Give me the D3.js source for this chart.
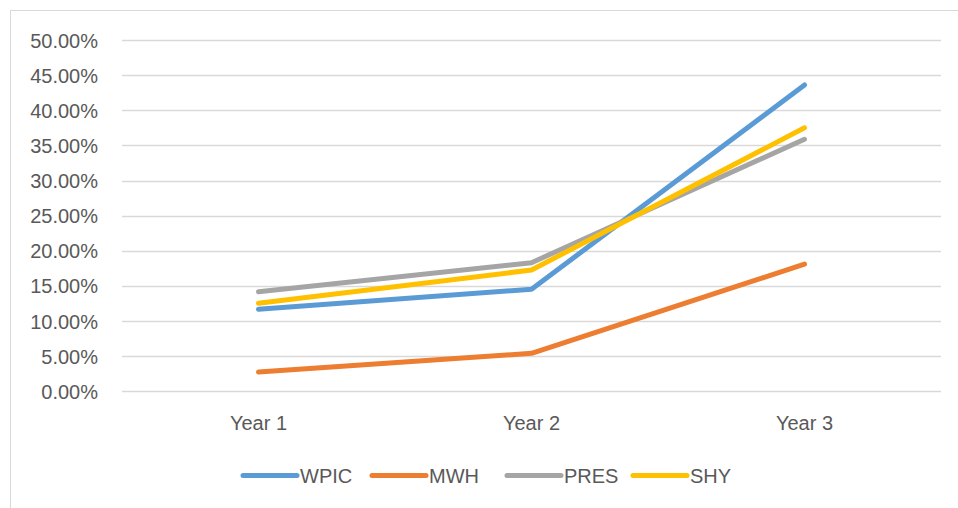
<!DOCTYPE html>
<html><head><meta charset="utf-8">
<script src="https://cdn.jsdelivr.net/npm/d3@7"></script>
<style>body{margin:0;background:#fff;}svg{display:block;}</style>
</head><body>
<script>
const categories = ["Year 1", "Year 2", "Year 3"];
const seriesNames = ["WPIC", "MWH", "PRES", "SHY"];
const WPIC = [0.1168, 0.1452, 0.4360];
const MWH  = [0.0273, 0.0541, 0.1810];
const PRES = [0.1418, 0.1830, 0.3587];
const SHY  = [0.1253, 0.1726, 0.3750];
const yTicks = [0, 0.05, 0.10, 0.15, 0.20, 0.25, 0.30, 0.35, 0.40, 0.45, 0.50];
const colors = ["#5B9BD5", "#ED7D31", "#A5A5A5", "#FFC000"];
const series = [WPIC, MWH, PRES, SHY];

(function () {
const W = 958, H = 508;
const svg = d3.select("body").append("svg").attr("width", W).attr("height", H);
svg.append("rect").attr("x", 10.5).attr("y", 10.5).attr("width", W).attr("height", H)
  .attr("fill", "#fff").attr("stroke", "#D9D9D9").attr("stroke-width", 1);

const pLeft = 122, pRight = 941, pTop = 40, pBottom = 391.3;
const x = d3.scaleBand().domain(categories).range([pLeft, pRight]);
const y = d3.scaleLinear().domain([0, 0.5]).range([pBottom, pTop]);
const font = "'Liberation Sans', Arial, sans-serif";

// gridlines
svg.append("g").selectAll("line").data(yTicks).join("line")
  .attr("x1", pLeft).attr("x2", pRight)
  .attr("y1", d => Math.round(y(d)) + 0.5).attr("y2", d => Math.round(y(d)) + 0.5)
  .attr("stroke", "#D9D9D9").attr("stroke-width", 1.3);

// y axis labels
const yAxis = d3.axisLeft(y).tickValues(yTicks).tickFormat(d3.format(".2%")).tickSize(0).tickPadding(0);
const gy = svg.append("g").attr("transform", `translate(98,0)`).call(yAxis);
gy.select(".domain").remove();
gy.selectAll("text").attr("font-family", font).attr("font-size", 20).attr("fill", "#595959").attr("dy", "0.35em");

// x axis labels
const xAxis = d3.axisBottom(x).tickSize(0).tickPadding(0);
const gx = svg.append("g").attr("transform", `translate(0,${pBottom + 25})`).call(xAxis);
gx.select(".domain").remove();
gx.selectAll("text").attr("font-family", font).attr("font-size", 20).attr("fill", "#595959").attr("dy", "0.7em");

// lines
const line = d3.line().x((d, i) => x(categories[i]) + x.bandwidth() / 2).y(d => y(d));
svg.append("g").selectAll("path").data(series).join("path")
  .attr("d", d => line(d)).attr("fill", "none")
  .attr("stroke", (d, i) => colors[i]).attr("stroke-width", 5)
  .attr("stroke-linecap", "round").attr("stroke-linejoin", "round");

// legend
const legX = [243, 372, 507, 633];
const lg = svg.append("g").selectAll("g").data(seriesNames).join("g")
  .attr("transform", (d, i) => `translate(${legX[i]},475.5)`);
lg.append("line").attr("x1", 0).attr("x2", 54).attr("y1", 0).attr("y2", 0)
  .attr("stroke", (d, i) => colors[i]).attr("stroke-width", 5).attr("stroke-linecap", "round");
lg.append("text").attr("x", 57).attr("y", 0).attr("dy", "0.35em").text(d => d)
  .attr("font-family", font).attr("font-size", 20).attr("fill", "#595959");
})();
</script>
</body></html>
